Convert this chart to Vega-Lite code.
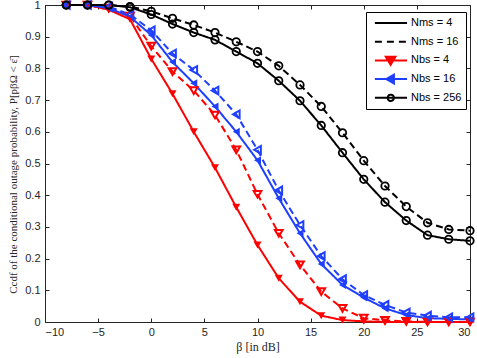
{
  "$schema": "https://vega.github.io/schema/vega-lite/v6.json",
  "width": 425,
  "height": 317,
  "autosize": {"type": "none"},
  "padding": {"left": 45, "top": 5, "right": 7, "bottom": 36},
  "background": "white",
  "config": {
    "view": {"stroke": "#262626", "strokeWidth": 1},
    "axis": {
      "grid": false,
      "domainColor": "#262626",
      "tickColor": "#262626",
      "labelColor": "#262626",
      "labelFont": "Liberation Sans",
      "labelFontSize": 11,
      "titleFont": "Liberation Serif",
      "titleFontWeight": "normal",
      "titleColor": "#262626",
      "tickSize": -4,
      "tickWidth": 1,
      "domainWidth": 1
    }
  },
  "datasets": {
    "curves": [
      {"beta": -8, "nms": 4, "nbs": 4, "p": 1}, {"beta": -6, "nms": 4, "nbs": 4, "p": 1}, {"beta": -4, "nms": 4, "nbs": 4, "p": 0.985}, {"beta": -2, "nms": 4, "nbs": 4, "p": 0.955}, {"beta": 0, "nms": 4, "nbs": 4, "p": 0.83}, {"beta": 2, "nms": 4, "nbs": 4, "p": 0.72}, {"beta": 4, "nms": 4, "nbs": 4, "p": 0.6}, {"beta": 6, "nms": 4, "nbs": 4, "p": 0.487}, {"beta": 8, "nms": 4, "nbs": 4, "p": 0.362}, {"beta": 10, "nms": 4, "nbs": 4, "p": 0.243}, {"beta": 12, "nms": 4, "nbs": 4, "p": 0.138}, {"beta": 14, "nms": 4, "nbs": 4, "p": 0.064}, {"beta": 16, "nms": 4, "nbs": 4, "p": 0.02}, {"beta": 18, "nms": 4, "nbs": 4, "p": 0.006}, {"beta": 20, "nms": 4, "nbs": 4, "p": 0.002}, {"beta": 22, "nms": 4, "nbs": 4, "p": 0}, {"beta": 24, "nms": 4, "nbs": 4, "p": 0}, {"beta": 26, "nms": 4, "nbs": 4, "p": 0}, {"beta": 28, "nms": 4, "nbs": 4, "p": 0}, {"beta": 30, "nms": 4, "nbs": 4, "p": 0},
      {"beta": -8, "nms": 16, "nbs": 4, "p": 1}, {"beta": -6, "nms": 16, "nbs": 4, "p": 1}, {"beta": -4, "nms": 16, "nbs": 4, "p": 0.99}, {"beta": -2, "nms": 16, "nbs": 4, "p": 0.965}, {"beta": 0, "nms": 16, "nbs": 4, "p": 0.87}, {"beta": 2, "nms": 16, "nbs": 4, "p": 0.79}, {"beta": 4, "nms": 16, "nbs": 4, "p": 0.73}, {"beta": 6, "nms": 16, "nbs": 4, "p": 0.653}, {"beta": 8, "nms": 16, "nbs": 4, "p": 0.543}, {"beta": 10, "nms": 16, "nbs": 4, "p": 0.403}, {"beta": 12, "nms": 16, "nbs": 4, "p": 0.28}, {"beta": 14, "nms": 16, "nbs": 4, "p": 0.18}, {"beta": 16, "nms": 16, "nbs": 4, "p": 0.096}, {"beta": 18, "nms": 16, "nbs": 4, "p": 0.043}, {"beta": 20, "nms": 16, "nbs": 4, "p": 0.012}, {"beta": 22, "nms": 16, "nbs": 4, "p": 0.005}, {"beta": 24, "nms": 16, "nbs": 4, "p": 0.002}, {"beta": 26, "nms": 16, "nbs": 4, "p": 0}, {"beta": 28, "nms": 16, "nbs": 4, "p": 0}, {"beta": 30, "nms": 16, "nbs": 4, "p": 0},
      {"beta": -8, "nms": 4, "nbs": 16, "p": 1}, {"beta": -6, "nms": 4, "nbs": 16, "p": 1}, {"beta": -4, "nms": 4, "nbs": 16, "p": 0.99}, {"beta": -2, "nms": 4, "nbs": 16, "p": 0.963}, {"beta": 0, "nms": 4, "nbs": 16, "p": 0.905}, {"beta": 2, "nms": 4, "nbs": 16, "p": 0.82}, {"beta": 4, "nms": 4, "nbs": 16, "p": 0.753}, {"beta": 6, "nms": 4, "nbs": 16, "p": 0.68}, {"beta": 8, "nms": 4, "nbs": 16, "p": 0.6}, {"beta": 10, "nms": 4, "nbs": 16, "p": 0.51}, {"beta": 12, "nms": 4, "nbs": 16, "p": 0.39}, {"beta": 14, "nms": 4, "nbs": 16, "p": 0.28}, {"beta": 16, "nms": 4, "nbs": 16, "p": 0.183}, {"beta": 18, "nms": 4, "nbs": 16, "p": 0.117}, {"beta": 20, "nms": 4, "nbs": 16, "p": 0.077}, {"beta": 22, "nms": 4, "nbs": 16, "p": 0.043}, {"beta": 24, "nms": 4, "nbs": 16, "p": 0.022}, {"beta": 26, "nms": 4, "nbs": 16, "p": 0.012}, {"beta": 28, "nms": 4, "nbs": 16, "p": 0.01}, {"beta": 30, "nms": 4, "nbs": 16, "p": 0.008},
      {"beta": -8, "nms": 16, "nbs": 16, "p": 1}, {"beta": -6, "nms": 16, "nbs": 16, "p": 1}, {"beta": -4, "nms": 16, "nbs": 16, "p": 0.995}, {"beta": -2, "nms": 16, "nbs": 16, "p": 0.97}, {"beta": 0, "nms": 16, "nbs": 16, "p": 0.92}, {"beta": 2, "nms": 16, "nbs": 16, "p": 0.847}, {"beta": 4, "nms": 16, "nbs": 16, "p": 0.795}, {"beta": 6, "nms": 16, "nbs": 16, "p": 0.73}, {"beta": 8, "nms": 16, "nbs": 16, "p": 0.655}, {"beta": 10, "nms": 16, "nbs": 16, "p": 0.543}, {"beta": 12, "nms": 16, "nbs": 16, "p": 0.415}, {"beta": 14, "nms": 16, "nbs": 16, "p": 0.306}, {"beta": 16, "nms": 16, "nbs": 16, "p": 0.208}, {"beta": 18, "nms": 16, "nbs": 16, "p": 0.135}, {"beta": 20, "nms": 16, "nbs": 16, "p": 0.085}, {"beta": 22, "nms": 16, "nbs": 16, "p": 0.054}, {"beta": 24, "nms": 16, "nbs": 16, "p": 0.03}, {"beta": 26, "nms": 16, "nbs": 16, "p": 0.02}, {"beta": 28, "nms": 16, "nbs": 16, "p": 0.015}, {"beta": 30, "nms": 16, "nbs": 16, "p": 0.015},
      {"beta": -8, "nms": 4, "nbs": 256, "p": 1}, {"beta": -6, "nms": 4, "nbs": 256, "p": 1}, {"beta": -4, "nms": 4, "nbs": 256, "p": 1}, {"beta": -2, "nms": 4, "nbs": 256, "p": 0.993}, {"beta": 0, "nms": 4, "nbs": 256, "p": 0.97}, {"beta": 2, "nms": 4, "nbs": 256, "p": 0.94}, {"beta": 4, "nms": 4, "nbs": 256, "p": 0.913}, {"beta": 6, "nms": 4, "nbs": 256, "p": 0.89}, {"beta": 8, "nms": 4, "nbs": 256, "p": 0.853}, {"beta": 10, "nms": 4, "nbs": 256, "p": 0.816}, {"beta": 12, "nms": 4, "nbs": 256, "p": 0.761}, {"beta": 14, "nms": 4, "nbs": 256, "p": 0.698}, {"beta": 16, "nms": 4, "nbs": 256, "p": 0.62}, {"beta": 18, "nms": 4, "nbs": 256, "p": 0.534}, {"beta": 20, "nms": 4, "nbs": 256, "p": 0.45}, {"beta": 22, "nms": 4, "nbs": 256, "p": 0.378}, {"beta": 24, "nms": 4, "nbs": 256, "p": 0.32}, {"beta": 26, "nms": 4, "nbs": 256, "p": 0.274}, {"beta": 28, "nms": 4, "nbs": 256, "p": 0.261}, {"beta": 30, "nms": 4, "nbs": 256, "p": 0.256},
      {"beta": -8, "nms": 16, "nbs": 256, "p": 1}, {"beta": -6, "nms": 16, "nbs": 256, "p": 1}, {"beta": -4, "nms": 16, "nbs": 256, "p": 1}, {"beta": -2, "nms": 16, "nbs": 256, "p": 0.995}, {"beta": 0, "nms": 16, "nbs": 256, "p": 0.98}, {"beta": 2, "nms": 16, "nbs": 256, "p": 0.958}, {"beta": 4, "nms": 16, "nbs": 256, "p": 0.937}, {"beta": 6, "nms": 16, "nbs": 256, "p": 0.913}, {"beta": 8, "nms": 16, "nbs": 256, "p": 0.884}, {"beta": 10, "nms": 16, "nbs": 256, "p": 0.853}, {"beta": 12, "nms": 16, "nbs": 256, "p": 0.808}, {"beta": 14, "nms": 16, "nbs": 256, "p": 0.748}, {"beta": 16, "nms": 16, "nbs": 256, "p": 0.68}, {"beta": 18, "nms": 16, "nbs": 256, "p": 0.597}, {"beta": 20, "nms": 16, "nbs": 256, "p": 0.509}, {"beta": 22, "nms": 16, "nbs": 256, "p": 0.429}, {"beta": 24, "nms": 16, "nbs": 256, "p": 0.364}, {"beta": 26, "nms": 16, "nbs": 256, "p": 0.313}, {"beta": 28, "nms": 16, "nbs": 256, "p": 0.292}, {"beta": 30, "nms": 16, "nbs": 256, "p": 0.288}
    ],
    "legendEntries": [
      {"entry": "Nms = 4"}, {"entry": "Nms = 16"}, {"entry": "Nbs = 4"}, {"entry": "Nbs = 16"}, {"entry": "Nbs = 256"}
    ]
  },
  "resolve": {"scale": {"color": "independent", "shape": "independent", "stroke": "independent", "strokeDash": "independent"}},
  "layer": [
    {
      "data": {"name": "curves"},
      "mark": {"type": "line", "strokeWidth": 2},
      "encoding": {
        "x": {"field": "beta", "type": "quantitative", "scale": {"domain": [-10, 30], "nice": false},
          "axis": {"orient": "bottom", "values": [-10, -5, 0, 5, 10, 15, 20, 25, 30], "format": "d", "title": "β [in dB]", "titleFontSize": 12, "labelPadding": 8, "titlePadding": 4}},
        "y": {"field": "p", "type": "quantitative", "scale": {"domain": [0, 1], "nice": false},
          "axis": {"orient": "left", "values": [0, 0.1, 0.2, 0.3, 0.4, 0.5, 0.6, 0.7, 0.8, 0.9, 1], "format": "~g", "title": "Ccdf of the conditional outage probability, P[pβΩ < ε̄]", "titleFontSize": 11, "labelPadding": 9, "titlePadding": 6, "titleY": 169}},
        "color": {"field": "nbs", "type": "nominal", "scale": {"domain": [4, 16, 256], "range": ["#ff0000", "#1f3fff", "#000000"]}, "legend": null},
        "strokeDash": {"field": "nms", "type": "nominal", "scale": {"domain": [4, 16], "range": [[1, 0], [7, 4]]}, "legend": null}
      }
    },
    {
      "data": {"name": "curves"},
      "transform": [{"filter": "datum.nms == 4 && datum.nbs < 256"}],
      "mark": {"type": "point", "filled": true, "size": 65, "opacity": 1},
      "encoding": {
        "x": {"field": "beta", "type": "quantitative", "axis": null},
        "y": {"field": "p", "type": "quantitative", "axis": null},
        "color": {"field": "nbs", "type": "nominal", "scale": {"domain": [4, 16, 256], "range": ["#ff0000", "#1f3fff", "#000000"]}, "legend": null},
        "shape": {"field": "nbs", "type": "nominal", "scale": {"domain": [4, 16, 256], "range": ["triangle-down", "triangle-left", "circle"]}, "legend": null}
      }
    },
    {
      "data": {"name": "curves"},
      "transform": [{"filter": "datum.nms == 16 && datum.nbs < 256"}],
      "mark": {"type": "point", "filled": false, "size": 60, "strokeWidth": 2, "opacity": 1},
      "encoding": {
        "x": {"field": "beta", "type": "quantitative", "axis": null},
        "y": {"field": "p", "type": "quantitative", "axis": null},
        "color": {"field": "nbs", "type": "nominal", "scale": {"domain": [4, 16, 256], "range": ["#ff0000", "#1f3fff", "#000000"]}, "legend": null},
        "shape": {"field": "nbs", "type": "nominal", "scale": {"domain": [4, 16, 256], "range": ["triangle-down", "triangle-left", "circle"]}, "legend": null}
      }
    },
    {
      "data": {"name": "curves"},
      "transform": [{"filter": "datum.nbs == 256"}],
      "mark": {"type": "point", "filled": false, "size": 55, "strokeWidth": 1.8, "color": "#000000", "opacity": 1},
      "encoding": {
        "x": {"field": "beta", "type": "quantitative", "axis": null},
        "y": {"field": "p", "type": "quantitative", "axis": null}
      }
    },
    {
      "data": {"name": "curves"},
      "mark": {"type": "point", "opacity": 0},
      "encoding": {
        "x": {"field": "beta", "type": "quantitative", "axis": {"orient": "top", "values": [-10, -5, 0, 5, 10, 15, 20, 25, 30], "labels": false, "domain": false, "title": null}},
        "y": {"field": "p", "type": "quantitative", "axis": {"orient": "right", "values": [0, 0.1, 0.2, 0.3, 0.4, 0.5, 0.6, 0.7, 0.8, 0.9, 1], "labels": false, "domain": false, "title": null}}
      }
    },
    {
      "data": {"name": "legendEntries"},
      "mark": {"type": "point", "opacity": 0, "strokeWidth": 2},
      "encoding": {
        "stroke": {"field": "entry", "type": "nominal",
          "scale": {"domain": ["Nms = 4", "Nms = 16", "Nbs = 4", "Nbs = 16", "Nbs = 256"], "range": ["#000000", "#000000", "#ff0000", "#1f3fff", "#000000"]},
          "legend": {
            "title": null, "orient": "none", "legendX": 321, "legendY": 7, "direction": "vertical",
            "strokeColor": "#000000", "fillColor": "white", "padding": 4,
            "symbolSize": 1369, "clipHeight": 14, "rowPadding": 4.7,
            "labelFont": "Liberation Sans", "labelFontSize": 11, "labelColor": "#000000", "labelOffset": 2,
            "symbolStrokeWidth": 2
          }},
        "strokeDash": {"field": "entry", "type": "nominal",
          "scale": {"domain": ["Nms = 4", "Nms = 16", "Nbs = 4", "Nbs = 16", "Nbs = 256"], "range": [[1, 0], [7, 5], [1, 0], [1, 0], [1, 0]]},
          "legend": {
            "title": null, "orient": "none", "legendX": 321, "legendY": 7, "direction": "vertical",
            "strokeColor": "#000000", "fillColor": "white", "padding": 4,
            "symbolSize": 1369, "clipHeight": 14, "rowPadding": 4.7,
            "labelFont": "Liberation Sans", "labelFontSize": 11, "labelColor": "#000000", "labelOffset": 2,
            "symbolStrokeWidth": 2
          }},
        "shape": {"field": "entry", "type": "nominal",
          "scale": {"domain": ["Nms = 4", "Nms = 16", "Nbs = 4", "Nbs = 16", "Nbs = 256"],
            "range": ["M-0.79,0H0.95", "M-0.79,0H0.95", "M-0.79,0H0.95M-0.2,-0.2L0.32,-0.2L0.06,0.24ZM-0.07,-0.127L0.19,-0.127L0.06,0.094ZM0.01,-0.08L0.11,-0.08L0.06,0Z", "M-0.79,0H0.95M-0.18,0L0.24,-0.24L0.24,0.24ZM-0.04,0L0.17,-0.12L0.17,0.12ZM0.05,0L0.13,-0.04L0.13,0.04Z", "M-0.79,0H0.95M0.24,0A0.17,0.17 0 1,1 -0.1,0A0.17,0.17 0 1,1 0.24,0Z"]},
          "legend": {
            "title": null, "orient": "none", "legendX": 321, "legendY": 7, "direction": "vertical",
            "strokeColor": "#000000", "fillColor": "white", "padding": 4,
            "symbolSize": 1369, "clipHeight": 14, "rowPadding": 4.7,
            "labelFont": "Liberation Sans", "labelFontSize": 11, "labelColor": "#000000", "labelOffset": 2,
            "symbolStrokeWidth": 2
          }}
      }
    }
  ]
}
